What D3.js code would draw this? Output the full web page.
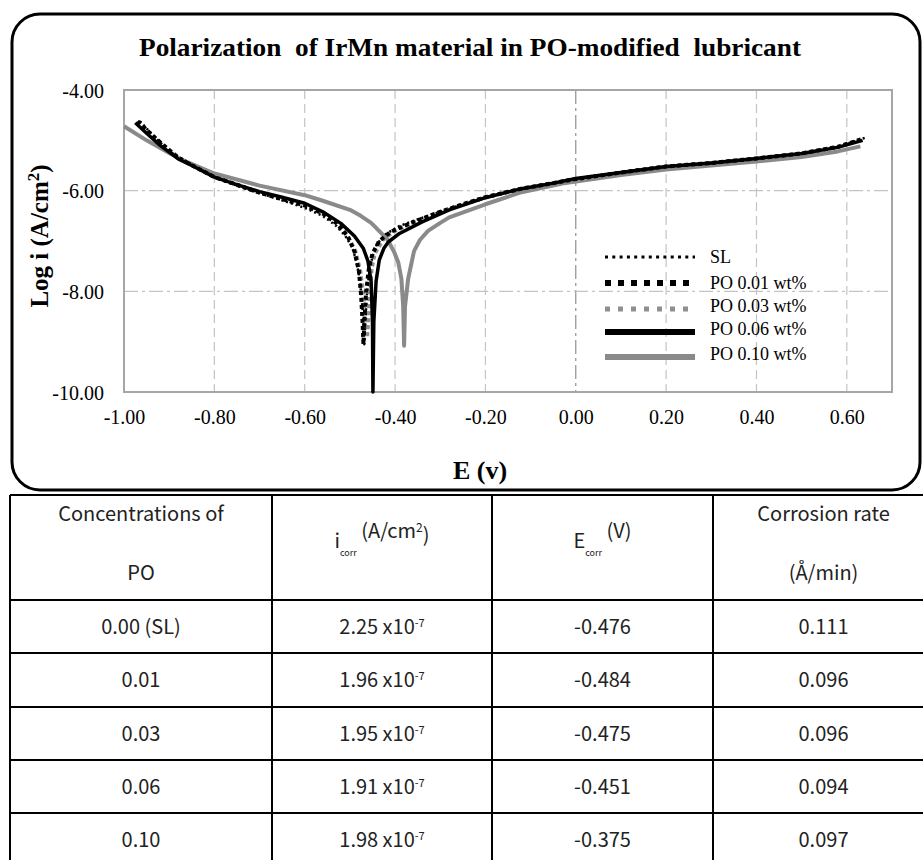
<!DOCTYPE html>
<html>
<head>
<meta charset="utf-8">
<script src="https://cdn.jsdelivr.net/npm/d3@7"></script>
<style>
  body { margin: 0; background: #fff; }
  svg { display: block; }
</style>
</head>
<body>
<div id="chart"></div>
<script>
const width = 923;
const height = 860;

// series: [E (V), log i]
const seriesNames = ["SL", "PO 0.01 wt%", "PO 0.03 wt%", "PO 0.06 wt%", "PO 0.10 wt%"];

const anodicTail = [[-0.30, -6.42], [-0.25, -6.27], [-0.20, -6.13], [-0.12, -5.96], [-0.05, -5.85], [0.00, -5.77],
  [0.10, -5.64], [0.20, -5.52], [0.30, -5.45], [0.40, -5.36], [0.50, -5.26], [0.58, -5.13]];

const slData = [[-0.965, -4.62], [-0.94, -4.86], [-0.90, -5.22], [-0.85, -5.48], [-0.80, -5.74], [-0.75, -5.90],
  [-0.70, -6.05], [-0.65, -6.19], [-0.60, -6.34], [-0.56, -6.50], [-0.53, -6.70], [-0.51, -6.90], [-0.495, -7.12],
  [-0.485, -7.42], [-0.478, -7.78], [-0.473, -8.22], [-0.470, -8.62], [-0.468, -9.05], [-0.466, -8.62],
  [-0.462, -8.02], [-0.457, -7.62], [-0.450, -7.30], [-0.440, -7.06], [-0.420, -6.86], [-0.390, -6.70],
  [-0.350, -6.57]].concat(anodicTail, [[0.64, -4.95]]);

const po01Data = [[-0.97, -4.62], [-0.93, -4.96], [-0.88, -5.35], [-0.80, -5.73], [-0.70, -6.04], [-0.60, -6.29],
  [-0.56, -6.45], [-0.53, -6.64], [-0.505, -6.90], [-0.490, -7.20], [-0.480, -7.60], [-0.475, -8.10],
  [-0.472, -8.60], [-0.470, -9.05], [-0.468, -8.60], [-0.464, -8.00], [-0.458, -7.55], [-0.450, -7.25],
  [-0.435, -7.00], [-0.410, -6.82], [-0.370, -6.66]].concat(anodicTail, [[0.635, -4.97]]);

const po03Data = [[-0.96, -4.72], [-0.92, -5.05], [-0.87, -5.40], [-0.80, -5.72], [-0.70, -6.04], [-0.60, -6.30],
  [-0.56, -6.46], [-0.53, -6.65], [-0.505, -6.90], [-0.488, -7.20], [-0.477, -7.60], [-0.470, -8.10],
  [-0.465, -8.55], [-0.462, -8.92], [-0.459, -8.55], [-0.455, -8.00], [-0.452, -7.55], [-0.445, -7.25],
  [-0.425, -6.95], [-0.400, -6.80], [-0.360, -6.64]].concat(anodicTail, [[0.63, -5.0]]);

const po06Data = [[-0.975, -4.65], [-0.95, -4.86], [-0.92, -5.10], [-0.88, -5.37], [-0.85, -5.50], [-0.80, -5.73],
  [-0.75, -5.88], [-0.70, -6.02], [-0.65, -6.13], [-0.60, -6.25], [-0.56, -6.42], [-0.52, -6.65], [-0.49, -6.90],
  [-0.47, -7.15], [-0.46, -7.40], [-0.453, -7.80], [-0.450, -8.60], [-0.449, -10.0], [-0.447, -8.60],
  [-0.442, -7.80], [-0.435, -7.38], [-0.425, -7.15], [-0.415, -7.02], [-0.390, -6.85], [-0.340, -6.62],
  [-0.280, -6.38], [-0.20, -6.14], [-0.12, -5.96], [-0.05, -5.85], [0.00, -5.76], [0.10, -5.64], [0.20, -5.52],
  [0.30, -5.45], [0.40, -5.36], [0.50, -5.26], [0.58, -5.14], [0.635, -5.00]];

const po10Data = [[-1.00, -4.72], [-0.95, -5.00], [-0.90, -5.25], [-0.87, -5.39], [-0.80, -5.66], [-0.70, -5.90],
  [-0.60, -6.09], [-0.56, -6.20], [-0.50, -6.38], [-0.476, -6.50], [-0.453, -6.64], [-0.431, -6.84],
  [-0.416, -6.98], [-0.402, -7.22], [-0.393, -7.42], [-0.386, -7.75], [-0.382, -8.30], [-0.380, -9.08],
  [-0.378, -8.30], [-0.371, -7.75], [-0.358, -7.20], [-0.345, -6.98], [-0.327, -6.80], [-0.30, -6.64],
  [-0.28, -6.53], [-0.20, -6.27], [-0.12, -6.03], [-0.03, -5.86], [0.10, -5.69], [0.20, -5.58], [0.30, -5.50],
  [0.40, -5.42], [0.50, -5.33], [0.58, -5.22], [0.63, -5.12]];

const seriesData = [slData, po01Data, po03Data, po06Data, po10Data];

const xTicks = [-1.0, -0.8, -0.6, -0.4, -0.2, 0.0, 0.2, 0.4, 0.6];
const yTicks = [-4, -6, -8, -10];

// table
const tableConc = ["0.00 (SL)", "0.01", "0.03", "0.06", "0.10"];
const tableIcorr = ["2.25", "1.96", "1.95", "1.91", "1.98"];
const tableEcorr = ["-0.476", "-0.484", "-0.475", "-0.451", "-0.375"];
const tableRate = ["0.111", "0.096", "0.096", "0.094", "0.097"];

const styles = [
  { color: "#000", w: 2.5, dash: "2,3", lw: 3, ldash: "3,4.3" },
  { color: "#000", w: 4, dash: "4,3", lw: 6, ldash: "6,7" },
  { color: "#8f8f8f", w: 4, dash: "4,3", lw: 5, ldash: "5,8" },
  { color: "#000", w: 3.5, dash: null, lw: 6, ldash: null },
  { color: "#8a8a8a", w: 4, dash: null, lw: 6, ldash: null }
];

const svg = d3.select("#chart")
  .append("svg")
  .attr("width", width)
  .attr("height", height);

const plot = { left: 124, right: 892, top: 90, bottom: 392 };

const xScale = d3.scaleLinear().domain([-1, 0.7]).range([plot.left, plot.right]);
const yScale = d3.scaleLinear().domain([-10, -4]).range([plot.bottom, plot.top]);

// outer frame
svg.append("rect")
  .attr("x", 12).attr("y", 14)
  .attr("width", 908).attr("height", 476)
  .attr("rx", 28).attr("ry", 28)
  .attr("fill", "none")
  .attr("stroke", "#000")
  .attr("stroke-width", 3);

svg.append("text")
  .attr("x", 470).attr("y", 56)
  .attr("text-anchor", "middle")
  .attr("font-family", "Liberation Serif, Times New Roman, serif")
  .attr("font-weight", "bold")
  .attr("font-size", 26)
  .attr("textLength", 662)
  .attr("lengthAdjust", "spacingAndGlyphs")
  .style("white-space", "pre")
  .text("Polarization  of IrMn material in PO-modified  lubricant");

// grid
svg.append("g")
  .selectAll("line")
  .data(xTicks.slice(1))
  .enter()
  .append("line")
  .attr("x1", d => xScale(d)).attr("x2", d => xScale(d))
  .attr("y1", plot.top).attr("y2", plot.bottom)
  .attr("stroke", d => d === 0 ? "#909090" : "#c4c4c4")
  .attr("stroke-width", 1.2)
  .attr("stroke-dasharray", d => d === 0 ? "14,4,3,4" : "9,5");

svg.append("g")
  .selectAll("line")
  .data([-6, -8])
  .enter()
  .append("line")
  .attr("x1", plot.left).attr("x2", plot.right)
  .attr("y1", d => yScale(d)).attr("y2", d => yScale(d))
  .attr("stroke", "#c4c4c4")
  .attr("stroke-width", 1.2)
  .attr("stroke-dasharray", "14,4,3,4");

svg.append("rect")
  .attr("x", plot.left).attr("y", plot.top)
  .attr("width", plot.right - plot.left).attr("height", plot.bottom - plot.top)
  .attr("fill", "none")
  .attr("stroke", "#a6a6a6")
  .attr("stroke-width", 2);

// axes (labels only), plain hyphen for minus like the original
const fmt = d => d.toFixed(2);
const xAxis = d3.axisBottom(xScale).tickValues(xTicks).tickFormat(fmt).tickSize(0).tickPadding(18);
const yAxis = d3.axisLeft(yScale).tickValues(yTicks).tickFormat(fmt).tickSize(0).tickPadding(20);

const gx = svg.append("g").attr("transform", `translate(0, ${plot.bottom})`).call(xAxis);
const gy = svg.append("g").attr("transform", `translate(${plot.left}, 0)`).call(yAxis);
[gx, gy].forEach(g => {
  g.select(".domain").remove();
  g.selectAll("text")
    .attr("font-family", "Liberation Serif, Times New Roman, serif")
    .attr("font-size", 20)
    .attr("fill", "#000");
});
gy.selectAll("text").attr("dy", "0.35em");

// curves
const line = d3.line()
  .x(d => xScale(d[0]))
  .y(d => yScale(d[1]));

const order = [4, 2, 3, 1, 0];
svg.append("g")
  .selectAll("path")
  .data(order)
  .enter()
  .append("path")
  .attr("d", i => line(seriesData[i]))
  .attr("fill", "none")
  .attr("stroke", i => styles[i].color)
  .attr("stroke-width", i => styles[i].w)
  .attr("stroke-dasharray", i => styles[i].dash)
  .attr("stroke-linejoin", "round");

// legend
const legendY = [257, 283, 309, 332, 357];
const legend = svg.append("g");
seriesNames.forEach((name, i) => {
  legend.append("line")
    .attr("x1", 605).attr("x2", 695)
    .attr("y1", legendY[i]).attr("y2", legendY[i])
    .attr("stroke", styles[i].color)
    .attr("stroke-width", styles[i].lw)
    .attr("stroke-dasharray", styles[i].ldash);
  legend.append("text")
    .attr("x", 710).attr("y", legendY[i] - (i >= 2 ? 3 : 0))
    .attr("dy", "0.35em")
    .attr("font-family", "Liberation Serif, Times New Roman, serif")
    .attr("font-size", 18)
    .text(name);
});

// axis titles
const yTitle = svg.append("text")
  .attr("transform", "translate(48, 236) rotate(-90)")
  .attr("text-anchor", "middle")
  .attr("font-family", "Liberation Serif, Times New Roman, serif")
  .attr("font-weight", "bold")
  .attr("font-size", 25);
yTitle.append("tspan").text("Log i (A/cm");
yTitle.append("tspan").attr("baseline-shift", "super").attr("font-size", 17).text("2");
yTitle.append("tspan").text(")");

svg.append("text")
  .attr("x", 480).attr("y", 479)
  .attr("text-anchor", "middle")
  .attr("font-family", "Liberation Serif, Times New Roman, serif")
  .attr("font-weight", "bold")
  .attr("font-size", 26)
  .text("E (v)");

// table
const colX = [10, 272, 492, 713, 934];
const rowY = [495, 600, 653, 707, 760, 813, 866];
const tableFont = "'Noto Sans CJK KR', 'Noto Sans', sans-serif";
const table = svg.append("g").attr("font-family", tableFont).attr("fill", "#222");

rowY.forEach(y => {
  table.append("line").attr("x1", colX[0]).attr("x2", colX[4]).attr("y1", y).attr("y2", y)
    .attr("stroke", "#000").attr("stroke-width", 2);
});
colX.forEach(x => {
  table.append("line").attr("x1", x).attr("x2", x).attr("y1", rowY[0]).attr("y2", rowY[6])
    .attr("stroke", "#000").attr("stroke-width", 2);
});

const colC = colX.slice(0, 4).map((x, i) => (x + colX[i + 1]) / 2);

function cellText(x, y, txt) {
  return table.append("text").attr("x", x).attr("y", y).attr("text-anchor", "middle")
    .attr("dy", "0.35em").attr("font-size", 20).text(txt);
}

cellText(colC[0], 514, "Concentrations of");
cellText(colC[0], 573, "PO");
cellText(colC[3], 514, "Corrosion rate");
cellText(colC[3], 573, "(Å/min)");

const h2 = table.append("text").attr("x", colC[1]).attr("y", 541).attr("text-anchor", "middle")
  .attr("dy", "0.35em").attr("font-size", 20);
h2.append("tspan").text("i");
h2.append("tspan").attr("font-size", 9).attr("dy", "0.9em").text("corr");
h2.append("tspan").attr("dy", "-0.9em").text(" (A/cm");
h2.append("tspan").attr("font-size", 12).attr("dy", "-0.5em").text("2");
h2.append("tspan").attr("dy", "0.5em").text(")");

const h3 = table.append("text").attr("x", colC[2]).attr("y", 541).attr("text-anchor", "middle")
  .attr("dy", "0.35em").attr("font-size", 20);
h3.append("tspan").text("E");
h3.append("tspan").attr("font-size", 9).attr("dy", "0.9em").text("corr");
h3.append("tspan").attr("dy", "-0.9em").text(" (V)");

tableConc.forEach((c, i) => {
  const cy = (rowY[i + 1] + rowY[i + 2]) / 2;
  cellText(colC[0], cy, c);
  const t = table.append("text").attr("x", colC[1]).attr("y", cy).attr("text-anchor", "middle")
    .attr("dy", "0.35em").attr("font-size", 20);
  t.append("tspan").text(tableIcorr[i] + " x10");
  t.append("tspan").attr("font-size", 11).attr("dy", "-0.6em").text("-7");
  cellText(colC[2], cy, tableEcorr[i]);
  cellText(colC[3], cy, tableRate[i]);
});
</script>
</body>
</html>
